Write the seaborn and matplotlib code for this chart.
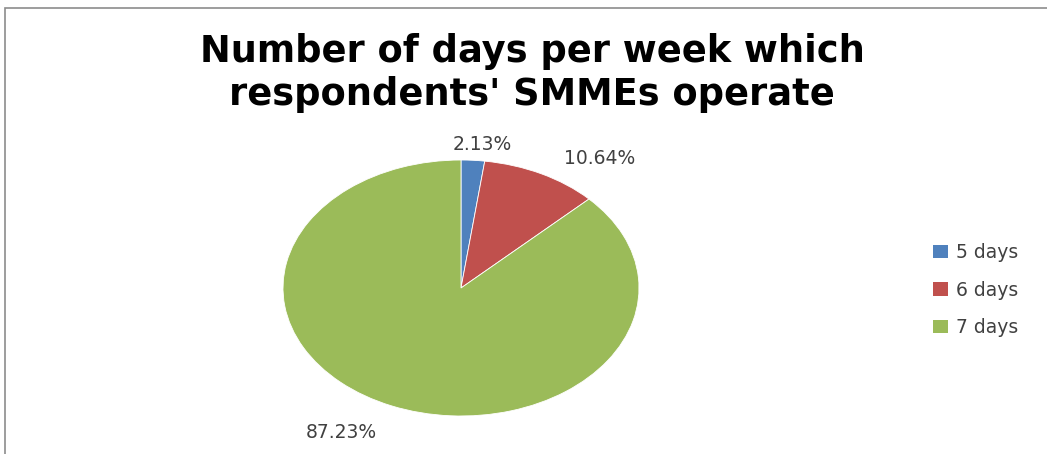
import matplotlib
matplotlib.use("Agg")
import matplotlib.pyplot as plt
import seaborn as sns
from matplotlib.patches import Rectangle, Patch

sns.set_theme(style="white")
plt.rcParams['font.family'] = ['DejaVu Sans']

categories = ["5 days", "6 days", "7 days"]
values = [2.13, 10.64, 87.23]
pct_labels = ["2.13%", "10.64%", "87.23%"]
colors = ["#4F81BD", "#C0504D", "#9BBB59"]
title = "Number of days per week which\nrespondents' SMMEs operate"

W, H = 1047, 454
fig = plt.figure(figsize=(W / 100, H / 100), dpi=100)
fig.patch.set_facecolor("white")

# border of chart area
fig.patches.append(Rectangle((5 / W, -0.01), 1.0, 1 - 8 / H + 0.01, transform=fig.transFigure,
                             fill=False, edgecolor="#8c8c8c", linewidth=1.2))

ax = fig.add_axes([283 / W, 38 / H, 356 / W, 256 / H])
wedges, _ = ax.pie(values, colors=colors, startangle=90, counterclock=False,
                   wedgeprops=dict(linewidth=0.6, edgecolor="white"))
ax.set_aspect("auto")
ax.set_xlim(-1, 1)
ax.set_ylim(-1, 1)
ax.axis("off")

label_pos = [(0.12, 1.12), (0.78, 1.015), (-0.67, -1.125)]
for (x, y), t in zip(label_pos, pct_labels):
    ax.text(x, y, t, ha="center", va="center", fontsize=13.5, color="#404040", clip_on=False)

fig.text(532 / W, 1 - 73 / H, title, ha="center", va="center", fontsize=26.5,
         fontweight="bold", color="black", linespacing=1.2)

handles = [Patch(facecolor=c, edgecolor="none") for c in colors]
fig.legend(handles, categories, loc="center left", bbox_to_anchor=(916 / W, 1 - 290 / H),
           frameon=False, fontsize=13.5, handlelength=0.8, handleheight=0.7,
           handletextpad=0.45, labelspacing=1.0, labelcolor="#404040")

fig.savefig("out.png", dpi=100)
